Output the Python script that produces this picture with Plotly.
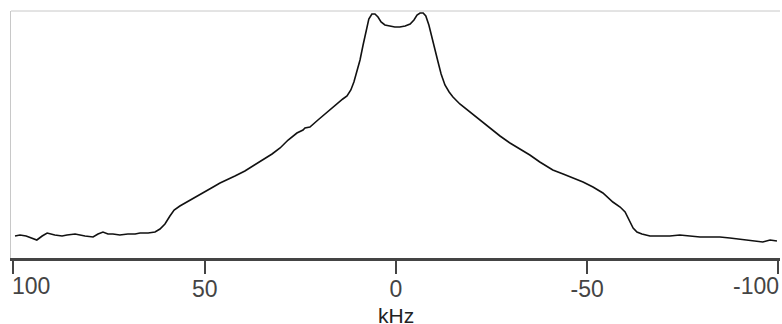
import plotly.graph_objects as go

# Frequency axis (kHz) and intensity (arbitrary units)
khz = [99.6, 98.3, 96.7, 95.2, 93.9, 92.5, 91.2, 89.2, 87.3, 86.0, 83.9, 81.3, 79.2, 77.9,
       76.6, 75.3, 74.0, 72.2, 70.1, 68.2, 66.9, 64.8, 63.0, 61.7, 60.4, 59.1, 58.0, 56.5,
       54.6, 53.1, 51.2, 49.4, 47.8, 46.0, 44.2, 42.1, 39.5, 36.9, 34.8, 32.4, 30.3, 28.2,
       25.9, 24.3, 23.8, 22.5, 20.4, 18.6, 17.3, 15.4, 13.9, 12.8, 11.8, 11.0, 10.2, 9.4,
       8.6, 7.8, 7.1, 6.3, 5.5, 4.7, 3.9, 2.9, 1.6, 0.3, -1.0, -2.4, -3.7, -4.7, -5.5,
       -6.3, -7.1, -7.8, -8.6, -9.4, -10.2, -11.0, -11.8, -12.8, -13.9, -14.9, -16.7,
       -19.3, -22.0, -25.4, -27.2, -29.8, -32.4, -35.0, -37.6, -41.0, -43.7, -46.3,
       -48.9, -51.5, -54.1, -56.7, -58.6, -59.9, -60.9, -62.0, -63.0, -64.3, -66.4,
       -69.0, -71.6, -74.2, -76.9, -79.5, -82.1, -84.7, -87.3, -89.9, -92.5, -94.4,
       -95.9, -97.8, -99.6]
intensity = [22, 23, 22, 20, 18, 22, 25, 23, 22, 23, 24, 22, 21, 24,
             26, 24, 24, 23, 24, 24, 25, 25, 26, 29, 34, 42, 48, 52,
             56, 59, 63, 67, 71, 75, 78, 82, 87, 93, 98, 104, 110, 118,
             125, 128, 130, 131, 138, 144, 148, 154, 159, 162, 168, 176, 186, 198,
             213, 228, 239, 244, 244, 241, 236, 233, 232, 231, 231, 232, 234, 238, 243,
             245, 245, 242, 233, 220, 206, 196, 184, 173, 166, 161, 154,
             146, 138, 127, 122, 115, 109, 103, 96, 88, 84, 80,
             76, 71, 65, 56, 51, 46, 38, 30, 26, 24, 22,
             22, 22, 23, 22, 21, 21, 21, 20, 19, 18, 17,
             16, 18, 17]

tick_vals = [100, 50, 0, -50, -100]
tick_text = ["", "50", "0", "-50", ""]
edge_labels = ["100", "-100"]
axis_title = "kHz"

fig = go.Figure()
fig.add_trace(go.Scatter(x=khz, y=intensity, mode="lines",
                         line=dict(color="#111111", width=1.6),
                         hoverinfo="skip", showlegend=False))

fig.update_layout(
    width=782, height=324,
    margin=dict(l=11, r=2, t=11, b=66, autoexpand=False),
    paper_bgcolor="white", plot_bgcolor="white",
    font=dict(family="Liberation Sans, Arial, sans-serif", color="#444"),
    xaxis=dict(range=[100.65, -100.4], tickvals=tick_vals, ticktext=tick_text,
               ticks="outside", ticklen=13, tickwidth=2, tickcolor="#444",
               ticklabelstandoff=-5,
               showline=True, linecolor="#444", linewidth=3, automargin=False,
               showgrid=False, zeroline=False, tickfont=dict(size=23, color="#444")),
    yaxis=dict(range=[0, 247], showticklabels=False, ticks="", showgrid=False,
               automargin=False,
               zeroline=False, showline=True, linecolor="#c8c8c8", linewidth=1),
    shapes=[dict(type="line", xref="paper", yref="paper", x0=0, x1=1, y0=1, y1=1,
                 line=dict(color="#c8c8c8", width=1))],
    annotations=[
        dict(x=100, y=0, xref="x", yref="paper", text=edge_labels[0], showarrow=False,
             xanchor="left", yanchor="top", yshift=-13, xshift=-3,
             font=dict(size=23, color="#444")),
        dict(x=-100, y=0, xref="x", yref="paper", text=edge_labels[1], showarrow=False,
             xanchor="right", yanchor="top", yshift=-13, xshift=3,
             font=dict(size=23, color="#444")),
        dict(x=0, y=0, xref="x", yref="paper", text=axis_title, showarrow=False,
             xanchor="center", yanchor="middle", yshift=-57,
             font=dict(size=21, color="#222")),
    ],
)

fig.write_html("out.html", config={"displayModeBar": False},
               post_script="document.body.style.margin='0';document.body.style.overflow='hidden';")
